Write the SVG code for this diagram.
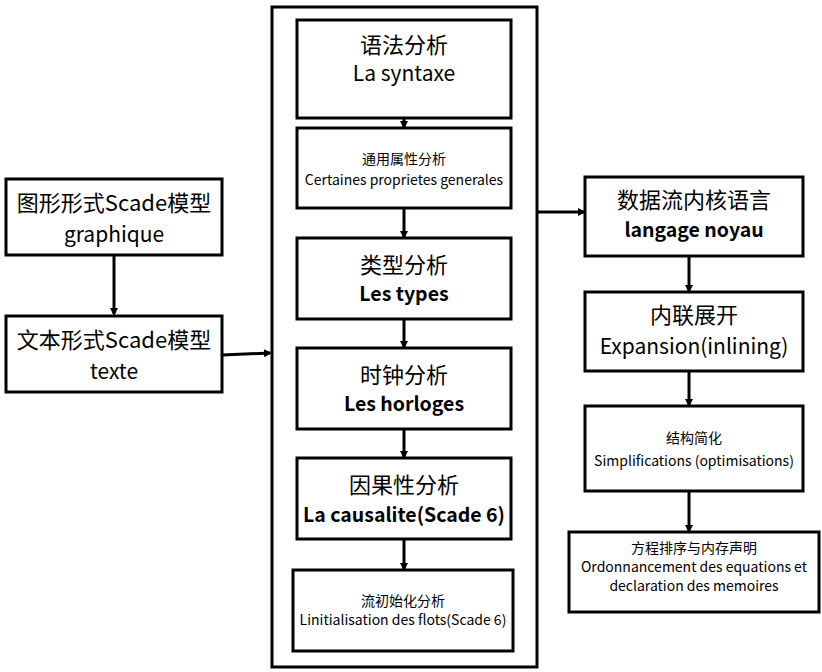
<svg xmlns="http://www.w3.org/2000/svg" width="822" height="672" viewBox="0 0 822 672">
<defs>
<marker id="ah" markerWidth="8" markerHeight="8" refX="6" refY="4" orient="auto" markerUnits="userSpaceOnUse"><path d="M0,0 L8,4 L0,8 z" fill="#000"/></marker>
<style>
.b{fill:#fff;stroke:#000;stroke-width:3}
text{font-family:"Noto Sans CJK SC","Noto Sans",sans-serif;text-anchor:middle;fill:#000}
.l{font-size:22px}.m{font-size:21px}.s{font-size:14px}.bd{font-weight:bold;font-size:19.5px}
.c line{stroke:#000;stroke-width:3;marker-end:url(#ah)}
</style>
</defs>
<rect width="822" height="672" fill="#fff"/>
<rect class="b" x="272" y="7" width="265" height="660"/>
<g id="n1"><rect class="b" x="6" y="179" width="216" height="76"/><text class="l" x="114" y="211">图形形式Scade模型</text><text class="m" x="114" y="242">graphique</text></g>
<g id="n2"><rect class="b" x="6" y="316" width="216" height="76"/><text class="l" x="114" y="348">文本形式Scade模型</text><text class="m" x="114" y="379">texte</text></g>
<g id="c1"><rect class="b" x="297" y="20" width="214" height="98"/><text class="l" x="404" y="53">语法分析</text><text class="m" x="404" y="81">La syntaxe</text></g>
<g id="c2"><rect class="b" x="297" y="128" width="214" height="80"/><text class="s" x="404" y="164">通用属性分析</text><text class="s" x="404" y="185">Certaines proprietes generales</text></g>
<g id="c3"><rect class="b" x="297" y="238" width="214" height="81"/><text class="l" x="404" y="273">类型分析</text><text class="bd" x="404" y="301">Les types</text></g>
<g id="c4"><rect class="b" x="297" y="348" width="214" height="81"/><text class="l" x="404" y="383">时钟分析</text><text class="bd" x="404" y="411">Les horloges</text></g>
<g id="c5"><rect class="b" x="297" y="458" width="214" height="81"/><text class="l" x="404" y="493">因果性分析</text><text class="bd" x="404" y="522">La causalite(Scade 6)</text></g>
<g id="c6"><rect class="b" x="293" y="570" width="220" height="81"/><text class="s" x="403" y="606">流初始化分析</text><text class="s" x="403" y="625">Linitialisation des flots(Scade 6)</text></g>
<g id="r1"><rect class="b" x="585" y="177" width="218" height="79"/><text class="l" x="694" y="208">数据流内核语言</text><text class="bd" x="694" y="237">langage noyau</text></g>
<g id="r2"><rect class="b" x="585" y="292" width="218" height="79"/><text class="l" x="694" y="323">内联展开</text><text class="m" x="694" y="354">Expansion(inlining)</text></g>
<g id="r3"><rect class="b" x="585" y="406" width="218" height="85"/><text class="s" x="694" y="443">结构简化</text><text class="s" x="694" y="466">Simplifications (optimisations)</text></g>
<g id="r4"><rect class="b" x="569" y="532" width="250" height="80"/><text class="s" x="694" y="553">方程排序与内存声明</text><text class="s" x="694" y="572">Ordonnancement des equations et</text><text class="s" x="694" y="591">declaration des memoires</text></g>
<g class="c">
<line x1="114" y1="255" x2="114" y2="314"/>
<line x1="222" y1="355" x2="270" y2="353"/>
<line x1="404" y1="118" x2="404" y2="127"/>
<line x1="404" y1="208" x2="404" y2="237"/>
<line x1="404" y1="319" x2="404" y2="347"/>
<line x1="404" y1="429" x2="404" y2="457"/>
<line x1="404" y1="539" x2="404" y2="569"/>
<line x1="537" y1="212" x2="584" y2="212"/>
<line x1="689" y1="256" x2="689" y2="291"/>
<line x1="689" y1="371" x2="689" y2="405"/>
<line x1="689" y1="491" x2="689" y2="531"/>
</g>
</svg>
